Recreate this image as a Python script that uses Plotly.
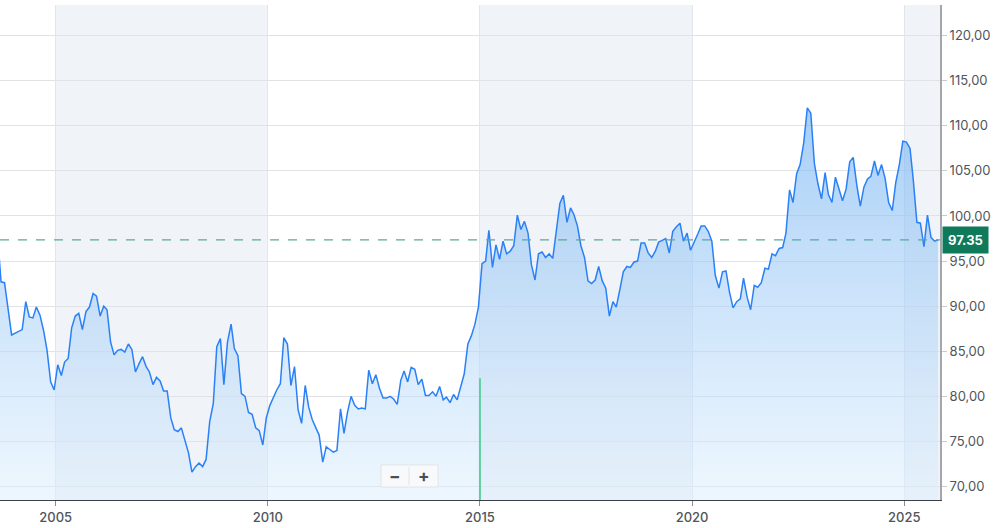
import pandas as pd
import plotly.graph_objects as go

# ---- data (monthly) ----
start_month = "2003-08-01"
values = [
    98.0, 92.7, 92.6, 89.7, 86.8, 87.0, 87.2, 87.4, 90.5, 88.8, 88.7, 89.9, 89.0, 87.3, 85.1, 81.6, 80.7,
    83.5, 82.3, 83.8, 84.2, 87.6, 88.9, 89.2, 87.4, 89.4, 89.9, 91.4, 91.1,
    88.9, 90.0, 89.6, 86.0, 84.6, 85.1, 85.2, 84.9, 85.8, 85.2, 82.7, 83.6,
    84.4, 83.3, 82.7, 81.3, 82.1, 81.7, 80.6, 80.6, 77.6, 76.3, 76.1, 76.5,
    75.1, 73.7, 71.6, 72.2, 72.6, 72.2, 73.0, 77.2, 79.2, 85.5, 86.4, 81.3,
    86.0, 88.0, 85.3, 84.5, 80.3, 80.0, 78.2, 78.0, 76.5, 76.2, 74.6, 77.6,
    79.0, 80.0, 80.7, 81.4, 86.5, 85.8, 81.2, 83.3, 78.5, 77.0, 81.2, 78.8,
    77.4, 76.5, 75.7, 72.7, 74.4, 74.1, 73.8, 74.0, 78.6, 75.9, 78.3, 80.0,
    79.0, 78.6, 78.7, 78.6, 82.9, 81.4, 82.4, 80.9, 79.8, 79.8, 80.0, 79.7,
    79.1, 81.8, 82.8, 81.6, 83.2, 83.0, 81.3, 81.9, 80.1, 80.1, 80.5, 80.0,
    81.1, 79.6, 79.9, 79.3, 80.2, 79.6, 81.2, 82.5, 85.8, 86.7, 88.0, 89.9,
    94.7, 95.0, 98.4, 94.3, 96.8, 95.2, 97.2, 95.8, 96.1, 96.7, 100.1, 98.5,
    99.4, 98.1, 94.6, 92.9, 95.8, 96.0, 95.4, 95.8, 95.3, 98.5, 101.4, 102.3,
    99.3, 100.9, 100.2, 98.9, 96.7, 95.4, 92.8, 92.5, 92.9, 94.4, 92.8, 92.0,
    88.9, 90.5, 89.9, 91.8, 93.8, 94.4, 94.3, 94.9, 95.0, 97.0, 97.0, 95.9,
    95.4, 96.1, 97.1, 97.3, 97.5, 95.9, 98.3, 98.8, 99.2, 97.2, 98.1, 96.2,
    97.2, 98.0, 98.9, 98.9, 98.3, 97.2, 93.4, 92.0, 93.8, 93.9, 91.5, 89.8,
    90.5, 90.8, 93.1, 91.0, 89.6, 92.3, 92.1, 92.6, 94.2, 94.1, 95.8, 95.6,
    96.4, 96.5, 98.1, 102.9, 101.5, 104.7, 105.7, 108.1, 112.0, 111.4, 105.8, 103.6,
    101.9, 104.8, 102.4, 101.5, 104.3, 103.1, 101.7, 103.0, 106.0, 106.5, 103.4, 101.1,
    103.2, 104.1, 104.4, 106.1, 104.5, 105.7, 104.2, 101.5, 100.6, 103.7, 105.7, 108.3,
    108.2, 107.5, 104.0, 99.3, 99.2, 96.6, 100.1, 97.6, 97.2, 97.35,
]
last_value = 97.35
last_label = "97.35"

band_starts = ["2005-01-01", "2015-01-01", "2025-01-01"]
band_ends = ["2010-01-01", "2020-01-01", "2025-11-04"]

x_tick_vals = ["2005-01-01", "2010-01-01", "2015-01-01", "2020-01-01", "2025-01-01"]
x_tick_text = ["2005", "2010", "2015", "2020", "2025"]
y_tick_vals = [70, 75, 80, 85, 90, 95, 100, 105, 110, 115, 120]
y_tick_text = ["70,00", "75,00", "80,00", "85,00", "90,00", "95,00",
               "100,00", "105,00", "110,00", "115,00", "120,00"]

marker_date = "2015-01-01"
marker_value = 82.0

x_range = ["2003-09-10", "2025-11-04"]
y_range = [68.5, 123.4]

# ---- figure ----
dates = pd.date_range(start_month, periods=len(values), freq="MS") + pd.Timedelta(days=18)

fig = go.Figure()
fig.add_trace(go.Scatter(
    x=dates, y=values, mode="lines",
    line=dict(color="#2a80f6", width=1.5),
    fill="tozeroy",
    fillgradient=dict(
        type="vertical",
        colorscale=[[0, "rgba(220,238,253,0.5)"], [1, "rgba(115,178,242,0.65)"]],
        start=y_range[0], stop=113,
    ),
    hoverinfo="skip",
))

shapes = []
for s, e in zip(band_starts, band_ends):
    shapes.append(dict(type="rect", xref="x", yref="paper", x0=s, x1=e, y0=0, y1=1,
                       fillcolor="#f0f3f7", line=dict(width=0), layer="below"))
# last value dashed line
shapes.append(dict(type="line", xref="paper", yref="y", x0=0, x1=1,
                   y0=last_value, y1=last_value,
                   line=dict(color="#5ca89b", width=1.3, dash="dash")))
# green marker
shapes.append(dict(type="line", xref="x", yref="y", x0=marker_date, x1=marker_date,
                   y0=y_range[0], y1=marker_value,
                   line=dict(color="#5ccf9f", width=2)))
# zoom buttons box
shapes.append(dict(type="rect", xref="paper", yref="paper",
                   x0=381 / 940, x1=438 / 940, y0=13 / 495, y1=35 / 495,
                   fillcolor="#f8f9fa", line=dict(color="#e2e4e7", width=1)))
shapes.append(dict(type="line", xref="paper", yref="paper",
                   x0=409 / 940, x1=409 / 940, y0=15 / 495, y1=33 / 495,
                   line=dict(color="#e2e4e7", width=1)))

annotations = [
    dict(xref="paper", yref="y", x=1, y=last_value, text="<b>" + last_label + "</b>",
         xanchor="left", yanchor="middle", xshift=2, showarrow=False,
         bgcolor="#0e7a5a", borderpad=5,
         font=dict(family="Inter, Roboto, sans-serif", size=13, color="white")),
    dict(xref="paper", yref="paper", x=394.5 / 940, y=24 / 495, text="<b>−</b>",
         xanchor="center", yanchor="middle", showarrow=False,
         font=dict(family="Inter, sans-serif", size=17, color="#4a4f57")),
    dict(xref="paper", yref="paper", x=423.5 / 940, y=24 / 495, text="<b>+</b>",
         xanchor="center", yanchor="middle", showarrow=False,
         font=dict(family="Inter, sans-serif", size=17, color="#4a4f57")),
]

fig.update_layout(
    width=995, height=528,
    margin=dict(l=0, r=55, t=5, b=28),
    paper_bgcolor="white", plot_bgcolor="white",
    showlegend=False,
    shapes=shapes, annotations=annotations,
    font=dict(family="Inter, Roboto, sans-serif"),
    xaxis=dict(
        type="date", range=x_range,
        tickvals=x_tick_vals, ticktext=x_tick_text,
        showgrid=True, gridcolor="#e2e6ec", gridwidth=1,
        showline=True, linecolor="#3c4149", linewidth=1,
        ticks="outside", ticklen=5, tickcolor="#8a8e94",
        tickfont=dict(family="Inter, sans-serif", size=13, color="#50555c", weight=500),
        zeroline=False, fixedrange=True,
    ),
    yaxis=dict(
        side="right", range=y_range,
        tickvals=y_tick_vals, ticktext=y_tick_text,
        showgrid=True, gridcolor="#e1e2e6", gridwidth=1,
        showline=True, linecolor="#a3a7ac", linewidth=2,
        ticks="outside", ticklen=5, tickcolor="#c8cace",
        tickfont=dict(family="Inter, sans-serif", size=13, color="#50555c"),
        zeroline=False, fixedrange=True,
    ),
)

fig.write_html("out.html", config={"displayModeBar": False},
               post_script="document.body.style.margin='0';")
